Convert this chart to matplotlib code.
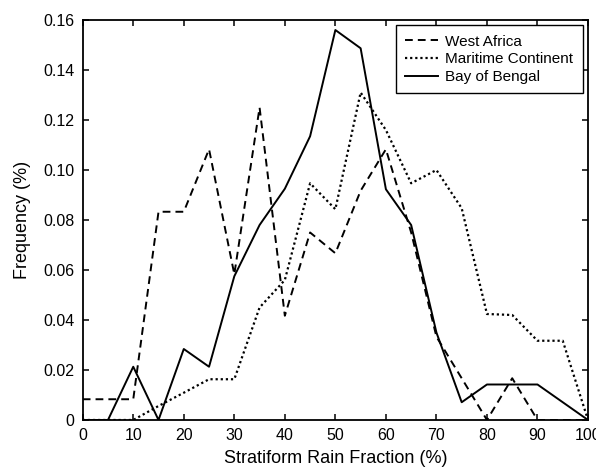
import numpy as np
import matplotlib
matplotlib.use('Agg')
from matplotlib import pyplot as plt

plt.rcParams['font.family'] = ['Liberation Sans', 'DejaVu Sans']

###Data
srf = [0, 5, 10, 15, 20, 25, 30, 35, 40, 45, 50, 55, 60, 65, 70, 75, 80, 85, 90, 95, 100]
west_africa = [0.0083, 0.0083, 0.0083, 0.0833, 0.0833, 0.1083, 0.0583, 0.125, 0.0417,
               0.075, 0.0667, 0.0917, 0.1083, 0.075, 0.0333, 0.0167, 0.0, 0.0167,
               0.0, 0.0, 0.0]
maritime = [0.0, 0.0, 0.0, 0.0056, 0.0109, 0.0163, 0.0163, 0.045, 0.056, 0.0947,
            0.0843, 0.131, 0.116, 0.0947, 0.100, 0.0847, 0.0424, 0.042, 0.0317,
            0.0317, 0.0]
bay_bengal = [0.0, 0.0, 0.0213, 0.0, 0.0284, 0.0213, 0.0575, 0.078, 0.0925, 0.1135,
              0.156, 0.1487, 0.0923, 0.078, 0.0350, 0.0071, 0.0142, 0.0142, 0.0142,
              0.0071, 0.0]
xticks = np.arange(0, 101, 10)
yticks = np.arange(0, 0.161, 0.02)
ytick_labels = ['0'] + ['%.2f' % v for v in yticks[1:]]

#Plot and plot properties
fig = plt.figure(figsize=(5.96, 4.71), dpi=100)
ax = fig.add_axes([0.1388, 0.1083, 0.8478, 0.8492])
lw = 1.4
ax.plot(srf, west_africa, color='black', linewidth=lw, linestyle=(0, (4, 2.6)),
        label='West Africa')
ax.plot(srf, maritime, color='black', linewidth=1.6, linestyle=(0, (1, 1.3)),
        label='Maritime Continent')
ax.plot(srf, bay_bengal, color='black', linewidth=lw, linestyle='-',
        label='Bay of Bengal')

ax.set_xlim(0, 100)
ax.set_ylim(0, 0.16)
ax.set_xticks(xticks)
ax.set_yticks(yticks)
ax.set_yticklabels(ytick_labels)
ax.tick_params(direction='in', top=True, right=True, length=4, width=1.1,
               labelsize=11.5, pad=6)
for sp in ax.spines.values():
    sp.set_linewidth(1.3)
ax.set_xlabel('Stratiform Rain Fraction (%)', fontsize=13, labelpad=5)
ax.set_ylabel('Frequency (%)', fontsize=13, labelpad=9)

leg = ax.legend(loc='upper right', fontsize=11, fancybox=False, edgecolor='black',
                framealpha=1, handlelength=2.15, handletextpad=0.5,
                borderaxespad=0.35, labelspacing=0.25, borderpad=0.6)
leg.get_frame().set_linewidth(1.0)

plt.savefig('out.png', dpi=100)
